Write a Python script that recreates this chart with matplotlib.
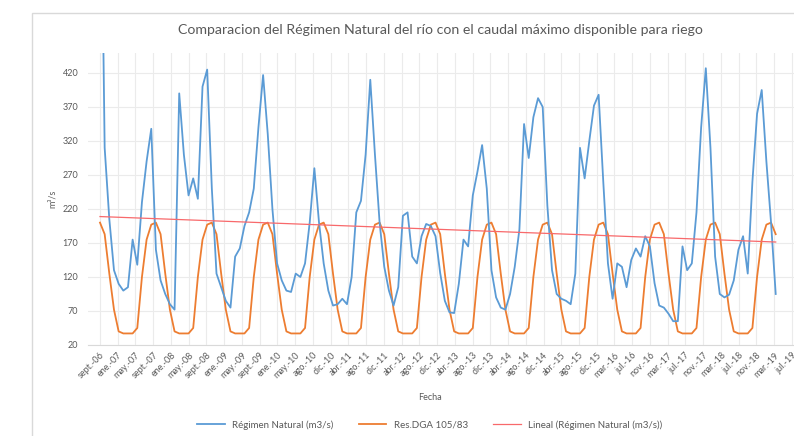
import numpy as np
import matplotlib
matplotlib.use("Agg")
import matplotlib.pyplot as plt
from matplotlib.patches import Rectangle

# ---------------- data ----------------
# first value is above the (fixed) axis maximum and is clipped, as in the original
natural = [850, 310, 205, 130, 110, 100, 105, 175, 138, 230, 290, 338,
           160, 115, 95, 80, 72, 390, 300, 240, 265, 235, 400, 425,
           250, 125, 105, 85, 75, 150, 162, 195, 215, 250, 340, 417,
           330, 220, 140, 115, 100, 98, 125, 120, 140, 200, 280, 200,
           140, 100, 78, 80, 88, 80, 120, 215, 232, 300, 410, 300,
           200, 135, 100, 78, 105, 210, 215, 150, 140, 180, 198, 195,
           180, 126, 85, 68, 67, 110, 175, 165, 240, 275, 314, 250,
           130, 90, 75, 72, 95, 135, 190, 345, 295, 355, 383, 370,
           225, 130, 95, 88, 85, 80, 125, 310, 265, 320, 372, 388,
           260, 140, 88, 140, 135, 105, 145, 162, 150, 180, 165, 111,
           78, 75, 66, 55, 55, 165, 130, 140, 215, 340, 427, 310,
           150, 95, 90, 94, 115, 160, 180, 125, 260, 360, 395, 290,
           200, 95]
# monthly pattern of the DGA resolution, starting in September
dga_pattern = [200, 183, 125, 72, 40, 37, 37, 37, 45, 120, 175, 197]
tick_labels = ["sept.-06", "ene.-07", "may.-07", "sept.-07", "ene.-08", "may.-08",
               "sept.-08", "ene.-09", "may.-09", "sept.-09", "ene.-10", "may.-10",
               "ago.-10", "dic.-10", "abr.-11", "ago.-11", "dic.-11", "abr.-12",
               "ago.-12", "dic.-12", "abr.-13", "ago.-13", "dic.-13", "abr.-14",
               "ago.-14", "dic.-14", "abr.-15", "ago.-15", "dic.-15", "mar.-16",
               "jul.-16", "nov.-16", "mar.-17", "jul.-17", "nov.-17", "mar.-18",
               "jul.-18", "nov.-18", "mar.-19", "jul.-19"]
y_ticks = [20, 70, 120, 170, 220, 270, 320, 370, 420]

n = len(natural)
x = np.arange(n)
dga = [dga_pattern[i % 12] for i in range(n)]
coef = np.polyfit(x, natural, 1)
trend = np.polyval(coef, x)

# ---------------- figure ----------------
W, H = 794, 436
plt.rcParams['font.family'] = ['Lato', 'DejaVu Sans']
fig = plt.figure(figsize=(W / 100, H / 100), dpi=100)
grey = '#595959'

# chart border (continues beyond the cropped right/bottom edges)
fig.patches.append(Rectangle((32 / W, -0.05), 1.2, 1 - 13 / H + 0.05,
                             transform=fig.transFigure, fill=False,
                             edgecolor='#D9D9D9', lw=1.0))

px_step = 4.66          # pixels per data point
left_px, right_px = 88, 815
ymin, ymax = 20, 450
bot_px = 345
top_px = bot_px - (ymax - ymin) * 0.68
ax = fig.add_axes([left_px / W, 1 - bot_px / H, (right_px - left_px) / W,
                   (bot_px - top_px) / H])
x0 = -(100 - left_px) / px_step
x1 = x0 + (right_px - left_px) / px_step
ax.set_xlim(x0, x1)
ax.set_ylim(ymin, ymax)

ax.plot(x, natural, color='#5B9BD5', lw=1.3, label='Régimen Natural (m3/s)', zorder=3)
ax.plot(x, dga, color='#ED7D31', lw=1.3, label='Res.DGA 105/83', zorder=2)
ax.plot(x, trend, color='#F8696B', lw=0.9, label='Lineal (Régimen Natural (m3/s))', zorder=4)

# category labels every 4 categories (slightly denser than the monthly points)
tick_pos = np.arange(len(tick_labels)) * (17.74 / px_step)
ax.set_yticks(y_ticks)
ax.set_yticklabels([str(v) for v in y_ticks], fontsize=6.5, color=grey)
ax.set_xticks(tick_pos)
ax.set_xticklabels(tick_labels, rotation=45, ha='right', rotation_mode='anchor',
                   fontsize=6.5, color=grey)
ax.tick_params(axis='y', length=0, pad=7)
ax.tick_params(axis='x', length=0, pad=4)
ax.grid(True, color='#EBEBEB', lw=0.8)
ax.set_axisbelow(True)
for s in ['top', 'right', 'left']:
    ax.spines[s].set_visible(False)
ax.spines['bottom'].set_color('#D9D9D9')

ax.set_ylabel('m³/s', fontsize=6.5, color=grey, labelpad=4)
fig.text(430 / W, 1 - 397 / H, 'Fecha', fontsize=6.5, color=grey, ha='center', va='center')
fig.text(440 / W, 1 - 30 / H,
         'Comparacion del Régimen Natural del río con el caudal máximo disponible para riego',
         fontsize=10.2, color=grey, ha='center', va='center')

fig.legend(loc='center', bbox_to_anchor=(430 / W, 1 - 425 / H), ncol=3, frameon=False,
           fontsize=7, labelcolor=grey, handlelength=2.8, columnspacing=2.6)

fig.savefig('out.png', dpi=100)
